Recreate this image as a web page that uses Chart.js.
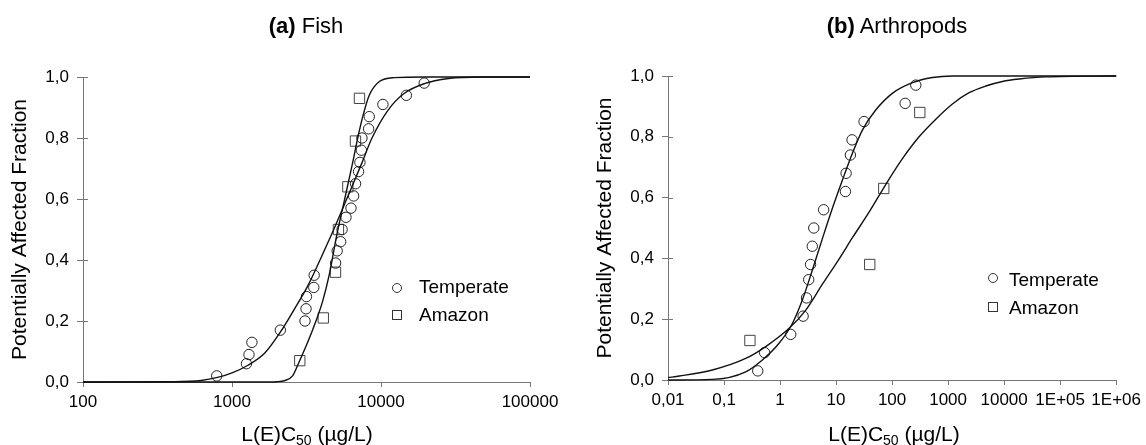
<!DOCTYPE html>
<html lang="en">
<head>
<meta charset="UTF-8" />
<title>Species sensitivity distributions - Fish / Arthropods</title>
<script src="https://cdn.jsdelivr.net/npm/chart.js"></script>
<style>
  body { margin: 0; background: #fff; font-family: Arial, "Liberation Sans", sans-serif; color: #000; }
  #wrap { position: relative; width: 1146px; height: 445px; overflow: hidden; }
  canvas { position: absolute; top: 0; }
  .title { position: absolute; font-size: 22px; line-height: 22px; white-space: nowrap; transform: translateX(-50%); }
  .xtitle { position: absolute; font-size: 21px; line-height: 21px; white-space: nowrap; transform: translateX(-50%); }
  .xtitle sub { font-size: 14px; vertical-align: -4px; line-height: 0; }
  .leg { position: absolute; font-size: 19px; line-height: 19px; white-space: nowrap; }
  .mk { position: absolute; box-sizing: border-box; width: 10px; height: 10px; border: 1px solid #333; }
  .mk.circle { border-radius: 50%; }
</style>
</head>
<body>
<div id="wrap">
  <canvas id="chartA" width="573" height="445" style="left:0"></canvas>
  <canvas id="chartB" width="573" height="445" style="left:573px"></canvas>

  <div class="title" style="left:306px; top:15px"><b>(a)</b> Fish</div>
  <div class="title" style="left:897px; top:15px"><b>(b)</b> Arthropods</div>

  <div class="xtitle" style="left:307px; top:423px">L(E)C<sub>50</sub> (µg/L)</div>
  <div class="xtitle" style="left:894px; top:423px">L(E)C<sub>50</sub> (µg/L)</div>

  <span class="mk circle" style="left:392px; top:283px"></span>
  <div class="leg" style="left:419px; top:277px">Temperate</div>
  <span class="mk" style="left:392px; top:310px"></span>
  <div class="leg" style="left:419px; top:305px">Amazon</div>

  <span class="mk circle" style="left:988px; top:273px"></span>
  <div class="leg" style="left:1009px; top:270px">Temperate</div>
  <span class="mk" style="left:988px; top:302px"></span>
  <div class="leg" style="left:1009px; top:298px">Amazon</div>
</div>

<script>
// y axis (both panels)
const yTicks = [0, 0.2, 0.4, 0.6, 0.8, 1.0];
const yTickLabels = ['0,0', '0,2', '0,4', '0,6', '0,8', '1,0'];

// (a) Fish
const xTicksA = [100, 1000, 10000, 100000];
const xLabelsA = ['100', '1000', '10000', '100000'];

const fishTempX = [790, 1250, 1300, 1360, 2110, 3090, 3140, 3160, 3540, 3560, 4960, 5080, 5360, 5480,
                   5820, 6290, 6550, 6750, 7070, 7220, 7380, 7450, 8260, 8340, 10300, 14800, 19500];
const fishTempY = [0.02, 0.06, 0.09, 0.13, 0.17, 0.20, 0.24, 0.28, 0.31, 0.35, 0.39, 0.43, 0.46, 0.50,
                   0.54, 0.57, 0.61, 0.65, 0.69, 0.72, 0.76, 0.80, 0.83, 0.87, 0.91, 0.94, 0.98];
const fishAmazX = [2850, 4100, 4950, 5180, 5990, 6740, 7170];
const fishAmazY = [0.07, 0.21, 0.36, 0.50, 0.64, 0.79, 0.93];

// fitted curves
const fishTempCurveX = [100, 400, 620, 800, 1000, 1280, 1660, 2120, 2630, 3240, 3980, 4900, 6030, 7410,
                        8700, 11100, 14200, 19500, 28400, 47500, 100000];
const fishTempCurveY = [0, 0.001, 0.005, 0.015, 0.03, 0.055, 0.095, 0.165, 0.24, 0.317, 0.41, 0.508, 0.612, 0.716,
                        0.80, 0.89, 0.945, 0.978, 0.995, 1, 1];
const fishAmazCurveX = [100, 1500, 2000, 2240, 2550, 2840, 3220, 3660, 4060, 4500, 4950, 5140, 5530, 5980,
                        6460, 6980, 7540, 8340, 9750, 12200, 20000, 100000];
const fishAmazCurveY = [0, 0, 0.001, 0.004, 0.02, 0.069, 0.13, 0.2, 0.265, 0.353, 0.46, 0.5, 0.57, 0.645,
                        0.72, 0.8, 0.87, 0.94, 0.985, 0.998, 1, 1];

// (b) Arthropods
const xTicksB = [0.01, 0.1, 1, 10, 100, 1000, 10000, 100000, 1000000];
const xLabelsB = ['0,01', '0,1', '1', '10', '100', '1000', '10000', '1E+05', '1E+06'];

const arthTempX = [0.40, 0.53, 1.55, 2.58, 2.97, 3.25, 3.5, 3.76, 4.0, 6.0, 14.7, 15.1, 18.0, 19.3, 31.6, 171, 265];
const arthTempY = [0.03, 0.09, 0.15, 0.21, 0.27, 0.33, 0.38, 0.44, 0.50, 0.56, 0.62, 0.68, 0.74, 0.79, 0.85, 0.91, 0.97];
const arthAmazX = [0.29, 39.9, 71, 312];
const arthAmazY = [0.13, 0.38, 0.63, 0.88];

const arthTempCurveX = [0.01, 0.062, 0.244, 0.483, 0.96, 1.66, 2.5, 3.78, 5.7, 8.6, 13.0, 19.6, 29.5, 51,
                        101, 231, 525, 1200, 1000000];
const arthTempCurveY = [0, 0.002, 0.027, 0.066, 0.121, 0.186, 0.263, 0.362, 0.465, 0.565, 0.658, 0.746, 0.822, 0.888,
                        0.943, 0.978, 0.995, 1, 1];
const arthAmazCurveX = [0.01, 0.016, 0.062, 0.244, 0.555, 1.45, 2.88, 5.7, 11.3, 19.6, 38.8, 77, 153, 303,
                        603, 1194, 2370, 4710, 9330, 18600, 55600, 1000000];
const arthAmazCurveY = [0.008, 0.013, 0.033, 0.071, 0.11, 0.17, 0.23, 0.315, 0.398, 0.468, 0.552, 0.643, 0.728, 0.80,
                        0.858, 0.908, 0.945, 0.967, 0.982, 0.99, 0.997, 1];

const toPts = (xs, ys) => xs.map((x, i) => ({ x: x, y: ys[i] }));
const FONT = 'Arial, "Liberation Sans", sans-serif';

// small inward tick marks on the y axis
const innerTicks = {
  id: 'innerTicks',
  beforeDatasetsDraw(chart) {
    const { ctx, chartArea, scales } = chart;
    ctx.save();
    ctx.strokeStyle = '#777';
    ctx.lineWidth = 1;
    scales.y.ticks.forEach(t => {
      const py = Math.round(scales.y.getPixelForValue(t.value)) + 0.5;
      ctx.beginPath();
      ctx.moveTo(chartArea.left, py);
      ctx.lineTo(chartArea.left + 5, py);
      ctx.stroke();
    });
    ctx.restore();
  }
};

function curve(xs, ys) {
  return {
    data: toPts(xs, ys), showLine: true, pointRadius: 0, borderColor: '#111', borderWidth: 1.4,
    cubicInterpolationMode: 'monotone', clip: false
  };
}
function marks(xs, ys, style, r) {
  return {
    data: toPts(xs, ys), showLine: false, pointStyle: style, pointRadius: r,
    borderColor: style === 'rect' ? '#444' : '#222', borderWidth: 1, backgroundColor: 'rgba(0,0,0,0)', clip: false
  };
}

function panel(id, p) {
  return new Chart(document.getElementById(id), {
    type: 'scatter',
    data: {
      datasets: [
        curve(p.c1x, p.c1y),
        curve(p.c2x, p.c2y),
        marks(p.tx, p.ty, 'circle', 5.2),
        marks(p.ax, p.ay, 'rect', 7.3)
      ]
    },
    options: {
      responsive: false,
      animation: false,
      devicePixelRatio: 1,
      layout: { padding: { left: 0, right: p.padRight, top: p.padTop, bottom: 0 } },
      plugins: { legend: { display: false }, tooltip: { enabled: false } },
      scales: {
        x: {
          type: 'logarithmic',
          min: p.xTicks[0],
          max: p.xTicks[p.xTicks.length - 1],
          afterBuildTicks: s => { s.ticks = p.xTicks.map(v => ({ value: v })); },
          afterFit: s => { s.height = p.xAxisHeight; },
          ticks: {
            autoSkip: false, maxRotation: 0, padding: 5, color: '#000',
            font: { family: FONT, size: 17 },
            callback: (v, i) => p.xLabels[i]
          },
          grid: { drawOnChartArea: false, tickLength: 5, color: '#777' },
          border: { color: '#777', width: 1 }
        },
        y: {
          min: 0,
          max: 1,
          afterBuildTicks: s => { s.ticks = yTicks.map(v => ({ value: v })); },
          afterFit: s => { s.width = p.yAxisWidth; },
          ticks: {
            padding: 8, color: '#000',
            font: { family: FONT, size: 17 },
            callback: (v, i) => yTickLabels[i]
          },
          grid: { drawOnChartArea: false, tickLength: 6, color: '#777' },
          border: { color: '#777', width: 1 },
          title: {
            display: true, text: 'Potentially Affected Fraction', color: '#000',
            font: { family: FONT, size: 21 },
            padding: { top: p.titlePad, bottom: 0 }
          }
        }
      }
    },
    plugins: [innerTicks]
  });
}

panel('chartA', {
  xTicks: xTicksA, xLabels: xLabelsA,
  tx: fishTempX, ty: fishTempY, ax: fishAmazX, ay: fishAmazY,
  c1x: fishTempCurveX, c1y: fishTempCurveY, c2x: fishAmazCurveX, c2y: fishAmazCurveY,
  yAxisWidth: 83, xAxisHeight: 63, padTop: 77, padRight: 43, titlePad: 8
});

panel('chartB', {
  xTicks: xTicksB, xLabels: xLabelsB,
  tx: arthTempX, ty: arthTempY, ax: arthAmazX, ay: arthAmazY,
  c1x: arthTempCurveX, c1y: arthTempCurveY, c2x: arthAmazCurveX, c2y: arthAmazCurveY,
  yAxisWidth: 95, xAxisHeight: 65, padTop: 76, padRight: 28, titlePad: 20
});
</script>
</body>
</html>
